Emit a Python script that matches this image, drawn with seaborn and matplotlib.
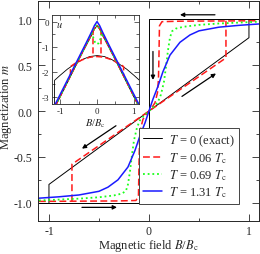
import matplotlib
matplotlib.use("Agg")
import matplotlib.pyplot as plt
import seaborn as sns

# --- main panel: magnetization m vs B/Bc ---
# T = 0 (exact): step branch and metastable diagonal branch
b_t0_step = [-1.1, 0.0, 0.0, 1.1]
m_t0_step = [-1.0, -1.0, 1.0, 1.0]
b_t0_diag = [-1.0, -1.0, 1.0, 1.0]
m_t0_diag = [-1.0, -0.8, 0.8, 1.0]

# T = 0.06 Tc
b_t006 = [-1.1, -0.3, -0.13, -0.105, -0.1, -0.095, -0.085, -0.06, -0.03, 0.0,
          0.03, 0.06, 0.085, 0.095, 0.1, 0.105, 0.13, 0.3, 1.1]
m_t006 = [-0.985, -0.98, -0.975, -0.93, -0.6, -0.35, -0.2, -0.09, -0.04, 0.0,
          0.04, 0.09, 0.2, 0.35, 0.6, 0.93, 0.975, 0.98, 0.985]
b_t006_diag = [-0.77, -0.77, 0.77, 0.77]
m_t006_diag = [-0.985, -0.58, 0.58, 0.985]

# T = 0.69 Tc
b_t069 = [-1.1, -0.9, -0.7, -0.5, -0.35, -0.27, -0.23, -0.21, -0.19, -0.17, -0.15,
          -0.12, -0.09, -0.05, 0.0, 0.05, 0.09, 0.12, 0.15, 0.17, 0.19, 0.21,
          0.23, 0.27, 0.35, 0.5, 0.7, 0.9, 1.1]
m_t069 = [-0.975, -0.965, -0.955, -0.94, -0.92, -0.9, -0.87, -0.8, -0.66, -0.48,
          -0.32, -0.18, -0.1, -0.05, 0.0, 0.05, 0.1, 0.18, 0.32, 0.48, 0.66, 0.8,
          0.87, 0.9, 0.92, 0.94, 0.955, 0.965, 0.975]

# T = 1.31 Tc
b_t131 = [-1.1, -0.9, -0.7, -0.5, -0.41, -0.31, -0.21, -0.14, -0.09, -0.04, 0.0,
          0.04, 0.09, 0.14, 0.21, 0.31, 0.41, 0.5, 0.7, 0.9, 1.1]
m_t131 = [-0.95, -0.935, -0.915, -0.875, -0.83, -0.75, -0.61, -0.43, -0.27, -0.13, 0.0,
          0.13, 0.27, 0.43, 0.61, 0.75, 0.83, 0.875, 0.915, 0.935, 0.95]

# --- inset: energy u vs B/Bc ---
bi_v = [-1.25, -1.0, -0.6, -0.3, -0.15, -0.07, 0.0, 0.07, 0.15, 0.3, 0.6, 1.0, 1.25]
u_blue = [-3.65, -2.92, -1.75, -0.87, -0.42, -0.16, 0.0, -0.16, -0.42, -0.87, -1.75, -2.92, -3.65]
u_green = [-3.7, -2.98, -1.8, -0.93, -0.5, -0.26, -0.12, -0.26, -0.5, -0.93, -1.8, -2.98, -3.7]
u_red = [-3.72, -3.0, -1.82, -0.95, -0.52, -0.28, -0.14, -0.28, -0.52, -0.95, -1.82, -3.0, -3.72]
u_black = [-3.75, -3.02, -1.84, -0.97, -0.55, -0.3, -0.17, -0.3, -0.55, -0.97, -1.84, -3.02, -3.75]

bi_green_dip = [-0.15, -0.12, -0.08, -0.04, 0.0, 0.04, 0.08, 0.12, 0.15]
u_green_dip = [-0.42, -0.55, -0.75, -0.87, -0.9, -0.87, -0.75, -0.55, -0.42]

bi_black_arc = [-1.15, -1.15, -1.0, -0.8, -0.6, -0.4, -0.2, 0.0, 0.2, 0.4, 0.6, 0.8, 1.0, 1.15, 1.15]
u_black_arc = [-3.4, -2.35, -2.15, -1.9, -1.7, -1.52, -1.4, -1.36, -1.4, -1.52, -1.7, -1.9, -2.15, -2.35, -3.4]

bi_red_arc = [-0.72, -0.72, -0.6, -0.4, -0.2, -0.1, 0.0, 0.1, 0.2, 0.4, 0.6, 0.72, 0.72]
u_red_arc = [-2.15, -1.8, -1.68, -1.53, -1.43, -1.41, -1.4, -1.41, -1.43, -1.53, -1.68, -1.8, -2.15]
bi_red_jump_l = [-0.1, -0.1]
bi_red_jump_r = [0.1, 0.1]
u_red_jump = [-0.3, -1.41]

labels = [r"$T$ = 0 (exact)", r"$T$ = 0.06 $T_{\rm c}$",
          r"$T$ = 0.69 $T_{\rm c}$", r"$T$ = 1.31 $T_{\rm c}$"]
colors = ["black", "#ff1a1a", "#1aff1a", "#1a1aff"]

# arrows along the loop (tail, head)
arrows = [((0.66, 1.05), (0.31, 1.05)),
          ((0.04, 0.65), (0.04, 0.34)),
          ((-0.67, -1.05), (-0.32, -1.05)),
          ((-0.05, -0.66), (-0.05, -0.33)),
          ((0.33, 0.16), (0.67, 0.41)),
          ((-0.33, -0.16), (-0.67, -0.41))]

sns.set_style("ticks")
plt.rcParams["font.family"] = ["Liberation Serif", "DejaVu Serif"]
plt.rcParams["mathtext.fontset"] = "stix"

fig = plt.figure(figsize=(2.6, 2.55), dpi=100)
ax = fig.add_axes([0.146, 0.129, 0.85, 0.863])

lw = 1.1
sns.lineplot(x=b_t0_step, y=m_t0_step, sort=False, estimator=None, ax=ax,
             color=colors[0], lw=0.7, label=labels[0])
sns.lineplot(x=b_t0_diag, y=m_t0_diag, sort=False, estimator=None, ax=ax,
             color=colors[0], lw=0.7)
sns.lineplot(x=b_t006, y=m_t006, sort=False, estimator=None, ax=ax,
             color=colors[1], lw=lw, label=labels[1])
sns.lineplot(x=b_t006_diag, y=m_t006_diag, sort=False, estimator=None, ax=ax,
             color=colors[1], lw=lw)
sns.lineplot(x=b_t069, y=m_t069, sort=False, estimator=None, ax=ax,
             color=colors[2], lw=lw + 0.2, label=labels[2])
sns.lineplot(x=b_t131, y=m_t131, sort=False, estimator=None, ax=ax,
             color=colors[3], lw=lw, label=labels[3])
for ln in ax.lines:
    if ln.get_color() == colors[1]:
        ln.set_dashes([4.5, 2.2])
    elif ln.get_color() == colors[2]:
        ln.set_dashes([1.0, 1.6])

for tail, head in arrows:
    ax.annotate("", xy=head, xytext=tail,
                arrowprops=dict(arrowstyle="-|>", color="k", lw=0.9,
                                mutation_scale=6, shrinkA=0, shrinkB=0))

ax.set_xlim(-1.11, 1.1)
ax.set_ylim(-1.2, 1.2)
ax.set_xticks([-1, 0, 1])
ax.set_xticklabels(["-1", "0", "1"])
ax.set_xticks([-0.5, 0.5], minor=True)
ax.set_yticks([-1.0, -0.5, 0.0, 0.5, 1.0])
ax.set_yticklabels(["-1.0", "-0.5", "0.0", "0.5", "1.0"])
ax.set_yticks([-0.75, -0.25, 0.25, 0.75], minor=True)
ax.tick_params(which="both", direction="in", top=True, right=True,
               labelsize=8.5, width=0.6, pad=4)
ax.tick_params(axis="x", which="both", pad=2.5)
ax.tick_params(which="major", length=5)
ax.tick_params(which="minor", length=2.5)
for s in ax.spines.values():
    s.set_linewidth(0.7)
ax.set_xlabel(r"Magnetic field $B$/$B_{\rm c}$", fontsize=9)
ax.set_ylabel(r"Magnetization $m$", fontsize=9)
ax.xaxis.set_label_coords(0.5, -0.074)
ax.yaxis.set_label_coords(-0.108, 0.525)

leg = ax.legend(loc="lower right", fontsize=9, frameon=True, fancybox=False,
                edgecolor="#444444", framealpha=1, handlelength=1.5,
                handletextpad=0.6, labelspacing=0.2, borderpad=0.35,
                bbox_to_anchor=(0.94, 0.05))
leg.get_frame().set_linewidth(0.7)

# inset
axi = fig.add_axes([0.2, 0.588, 0.335, 0.349])
sns.lineplot(x=bi_v, y=u_black, sort=False, estimator=None, ax=axi, color="k", lw=0.6)
sns.lineplot(x=bi_black_arc, y=u_black_arc, sort=False, estimator=None, ax=axi, color="k", lw=0.6)
sns.lineplot(x=bi_v, y=u_red, sort=False, estimator=None, ax=axi, color=colors[1], lw=lw)
sns.lineplot(x=bi_red_arc, y=u_red_arc, sort=False, estimator=None, ax=axi, color=colors[1], lw=lw)
sns.lineplot(x=bi_red_jump_l, y=u_red_jump, sort=False, estimator=None, ax=axi, color=colors[1], lw=lw)
sns.lineplot(x=bi_red_jump_r, y=u_red_jump, sort=False, estimator=None, ax=axi, color=colors[1], lw=lw)
sns.lineplot(x=bi_v, y=u_green, sort=False, estimator=None, ax=axi, color=colors[2], lw=lw + 0.2)
sns.lineplot(x=bi_green_dip, y=u_green_dip, sort=False, estimator=None, ax=axi, color=colors[2], lw=lw + 0.2)
sns.lineplot(x=bi_v, y=u_blue, sort=False, estimator=None, ax=axi, color=colors[3], lw=lw)
for ln in axi.lines:
    if ln.get_color() == colors[1]:
        ln.set_dashes([4.0, 2.0])
    elif ln.get_color() == colors[2]:
        ln.set_dashes([1.0, 1.6])

axi.set_xlim(-1.22, 1.14)
axi.set_ylim(-3.3, 0.26)
axi.set_xticks([-1, 0, 1])
axi.set_xticklabels(["-1", "0", "1"])
axi.set_xticks([-0.5, 0.5], minor=True)
axi.set_yticks([-3, -2, -1, 0])
axi.set_yticklabels(["-3", "-2", "-1", "0"])
axi.set_yticks([-2.5, -1.5, -0.5], minor=True)
axi.tick_params(which="both", direction="in", top=True, right=True,
                labelsize=6.5, width=0.5, pad=2)
axi.tick_params(which="major", length=3.5)
axi.tick_params(which="minor", length=2)
for s in axi.spines.values():
    s.set_linewidth(0.6)
axi.set_xlabel(r"$B$/$B_{\rm c}$", fontsize=7.5, labelpad=1)
axi.text(0.05, 0.9, r"$u$", transform=axi.transAxes, fontsize=7.5, va="center")

fig.savefig("out.png", dpi=100)
